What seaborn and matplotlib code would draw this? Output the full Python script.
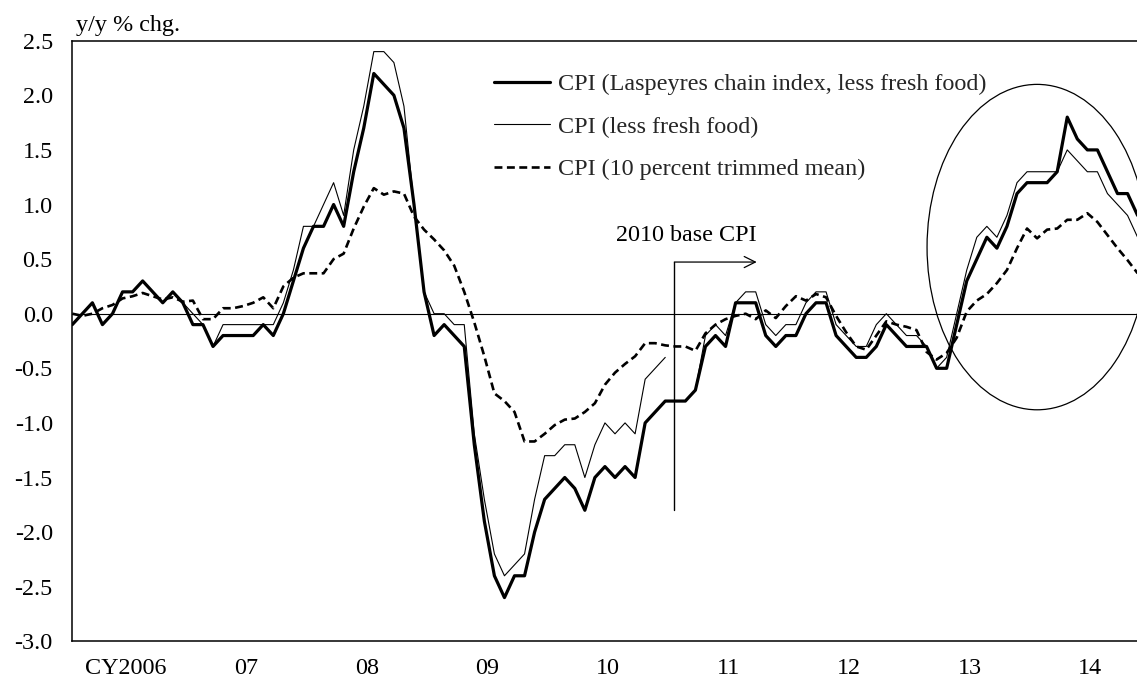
import numpy as np
import pandas as pd
import matplotlib
matplotlib.use("Agg")
import matplotlib.pyplot as plt
import seaborn as sns
from matplotlib.patches import Ellipse

# ---------------- data (y/y % chg., monthly, Jan 2006 - Nov 2014) ----------------
year_labels = ["CY2006", "07", "08", "09", "10", "11", "12", "13", "14"]

laspeyres_chain = [
    -0.1, 0.0, 0.1, -0.1, 0.0, 0.2, 0.2, 0.3, 0.2, 0.1, 0.2, 0.1,        # 2006
    -0.1, -0.1, -0.3, -0.2, -0.2, -0.2, -0.2, -0.1, -0.2, 0.0, 0.3, 0.6,  # 2007
    0.8, 0.8, 1.0, 0.8, 1.3, 1.7, 2.2, 2.1, 2.0, 1.7, 1.0, 0.2,           # 2008
    -0.2, -0.1, -0.2, -0.3, -1.2, -1.9, -2.4, -2.6, -2.4, -2.4, -2.0, -1.7,  # 2009
    -1.6, -1.5, -1.6, -1.8, -1.5, -1.4, -1.5, -1.4, -1.5, -1.0, -0.9, -0.8,  # 2010
    -0.8, -0.8, -0.7, -0.3, -0.2, -0.3, 0.1, 0.1, 0.1, -0.2, -0.3, -0.2,     # 2011
    -0.2, 0.0, 0.1, 0.1, -0.2, -0.3, -0.4, -0.4, -0.3, -0.1, -0.2, -0.3,     # 2012
    -0.3, -0.3, -0.5, -0.5, -0.1, 0.3, 0.5, 0.7, 0.6, 0.8, 1.1, 1.2,         # 2013
    1.2, 1.2, 1.3, 1.8, 1.6, 1.5, 1.5, 1.3, 1.1, 1.1, 0.9,                   # 2014
]

# CPI less fresh food, 2005 base (Jan 2006 - Dec 2010)
core_2005base = [
    -0.1, 0.0, 0.1, -0.1, 0.0, 0.2, 0.2, 0.3, 0.2, 0.1, 0.2, 0.1,
    0.0, -0.1, -0.3, -0.1, -0.1, -0.1, -0.1, -0.1, -0.1, 0.1, 0.4, 0.8,
    0.8, 1.0, 1.2, 0.9, 1.5, 1.9, 2.4, 2.4, 2.3, 1.9, 1.0, 0.2,
    0.0, 0.0, -0.1, -0.1, -1.1, -1.7, -2.2, -2.4, -2.3, -2.2, -1.7, -1.3,
    -1.3, -1.2, -1.2, -1.5, -1.2, -1.0, -1.1, -1.0, -1.1, -0.6, -0.5, -0.4,
]

# CPI less fresh food, 2010 base (Jan 2011 - Nov 2014)
core_2010base = [
    -0.8, -0.8, -0.7, -0.2, -0.1, -0.2, 0.1, 0.2, 0.2, -0.1, -0.2, -0.1,
    -0.1, 0.1, 0.2, 0.2, -0.1, -0.2, -0.3, -0.3, -0.1, 0.0, -0.1, -0.2,
    -0.2, -0.3, -0.5, -0.4, 0.0, 0.4, 0.7, 0.8, 0.7, 0.9, 1.2, 1.3,
    1.3, 1.3, 1.3, 1.5, 1.4, 1.3, 1.3, 1.1, 1.0, 0.9, 0.7,
]

trimmed_mean = [
    0.0, -0.02, 0.0, 0.05, 0.08, 0.14, 0.16, 0.19, 0.16, 0.13, 0.15, 0.11,
    0.12, -0.05, -0.05, 0.05, 0.05, 0.07, 0.10, 0.15, 0.05, 0.25, 0.33, 0.37,
    0.37, 0.37, 0.50, 0.55, 0.78, 0.98, 1.15, 1.09, 1.12, 1.10, 0.89, 0.77,
    0.68, 0.58, 0.44, 0.20, -0.08, -0.39, -0.73, -0.80, -0.90, -1.17, -1.17, -1.10,
    -1.02, -0.97, -0.96, -0.90, -0.82, -0.65, -0.54, -0.46, -0.39, -0.27, -0.27, -0.29,
    -0.30, -0.30, -0.34, -0.18, -0.10, -0.05, -0.02, 0.0, -0.05, 0.03, -0.04, 0.07,
    0.16, 0.12, 0.18, 0.15, -0.02, -0.17, -0.30, -0.33, -0.20, -0.07, -0.10, -0.12,
    -0.15, -0.35, -0.42, -0.36, -0.22, 0.02, 0.12, 0.18, 0.28, 0.40, 0.60, 0.78,
    0.69, 0.77, 0.78, 0.86, 0.86, 0.92, 0.84, 0.72, 0.60, 0.49, 0.37,
]

legend_labels = ["CPI (Laspeyres chain index, less fresh food)",
                 "CPI (less fresh food)",
                 "CPI (10 percent trimmed mean)"]

# ---------------- build frames ----------------
n = len(laspeyres_chain)
months = np.arange(n)
df_chain = pd.DataFrame({"m": months, "v": laspeyres_chain})
df_trim = pd.DataFrame({"m": months, "v": trimmed_mean})
df_old = pd.DataFrame({"m": np.arange(len(core_2005base)), "v": core_2005base})
df_new = pd.DataFrame({"m": np.arange(len(core_2005base), len(core_2005base) + len(core_2010base)),
                       "v": core_2010base})

# ---------------- style ----------------
FS = 17.4
sns.set_theme(style="white")
plt.rcParams['font.family'] = ['Liberation Serif', 'DejaVu Serif']
plt.rcParams['font.size'] = FS
plt.rcParams['axes.unicode_minus'] = False

W_PX, H_PX = 1137, 690
fig = plt.figure(figsize=(W_PX / 100, H_PX / 100), dpi=100)
left_px, right_px, top_px, bottom_px = 72.3, 1137.6, 40.7, 641.3
ax = fig.add_axes([left_px / W_PX, 1 - bottom_px / H_PX,
                   (right_px - left_px) / W_PX, (bottom_px - top_px) / H_PX])

ax.axhline(0, color="black", lw=0.8, zorder=1)

DASH = (0, (3.0, 1.7))
sns.lineplot(data=df_trim, x="m", y="v", ax=ax, color="black", lw=1.9,
             linestyle=DASH, zorder=3)
sns.lineplot(data=df_old, x="m", y="v", ax=ax, color="black", lw=0.8, zorder=4)
sns.lineplot(data=df_new, x="m", y="v", ax=ax, color="black", lw=0.8, zorder=4)
sns.lineplot(data=df_chain, x="m", y="v", ax=ax, color="black", lw=2.3, zorder=5)

ax.set_xlim(0, n - 1)
ax.set_ylim(-3.0, 2.5)
ax.set_xlabel("")
ax.set_ylabel("")

# y axis
yt = np.arange(-3.0, 2.51, 0.5)
ax.set_yticks(yt)
ax.set_yticklabels([f"{v:.1f}" for v in yt])
ax.tick_params(axis="y", length=0, pad=14, labelsize=FS, colors="black")

# x axis: year boundary ticks (inside) and year labels between them
ax.set_xticks(np.arange(12, n, 12))
ax.set_xticklabels([])
ax.tick_params(axis="x", which="major", direction="in", length=6, width=1.0, color="black")
ax.set_xticks(np.arange(len(year_labels)) * 12 + 5.3, minor=True)
ax.set_xticklabels(year_labels, minor=True)
ax.tick_params(axis="x", which="minor", length=0, pad=12, labelsize=FS, labelcolor="black")

for s in ["left", "bottom", "top"]:
    ax.spines[s].set_visible(True)
    ax.spines[s].set_color("black")
    ax.spines[s].set_linewidth(1.1)
ax.spines["right"].set_visible(False)
ax.grid(False)

# annotations
ax.text(54.1, 0.72, "2010 base CPI", ha="left", va="center", fontsize=FS, color="black")
ax.plot([59.9, 59.9], [0.473, -1.80], color="black", lw=1.0, zorder=6)
ax.annotate("", xy=(68.1, 0.473), xytext=(59.9, 0.473),
            arrowprops=dict(arrowstyle="->", lw=0.9, color="black",
                            mutation_scale=20, shrinkA=0, shrinkB=0))
ax.add_patch(Ellipse((96, 0.61), width=21.9, height=2.98, fill=False,
                     lw=0.9, ec="black", zorder=2))

fig.text(76 / W_PX, 1 - 25 / H_PX, "y/y % chg.", ha="left", va="center",
         fontsize=FS, color="black")

# legend
h_chain = plt.Line2D([], [], color="black", lw=2.3)
h_core = plt.Line2D([], [], color="black", lw=0.8)
h_trim = plt.Line2D([], [], color="black", lw=1.9, linestyle=DASH)
ax.legend([h_chain, h_core, h_trim], legend_labels, loc="upper left",
          bbox_to_anchor=(494 / W_PX, 1 - 73.5 / H_PX), bbox_transform=fig.transFigure,
          frameon=False, borderpad=0, borderaxespad=0, handlelength=2.33,
          handletextpad=0.3, labelspacing=0.85, fontsize=FS)

fig.savefig("out.png", dpi=100)
